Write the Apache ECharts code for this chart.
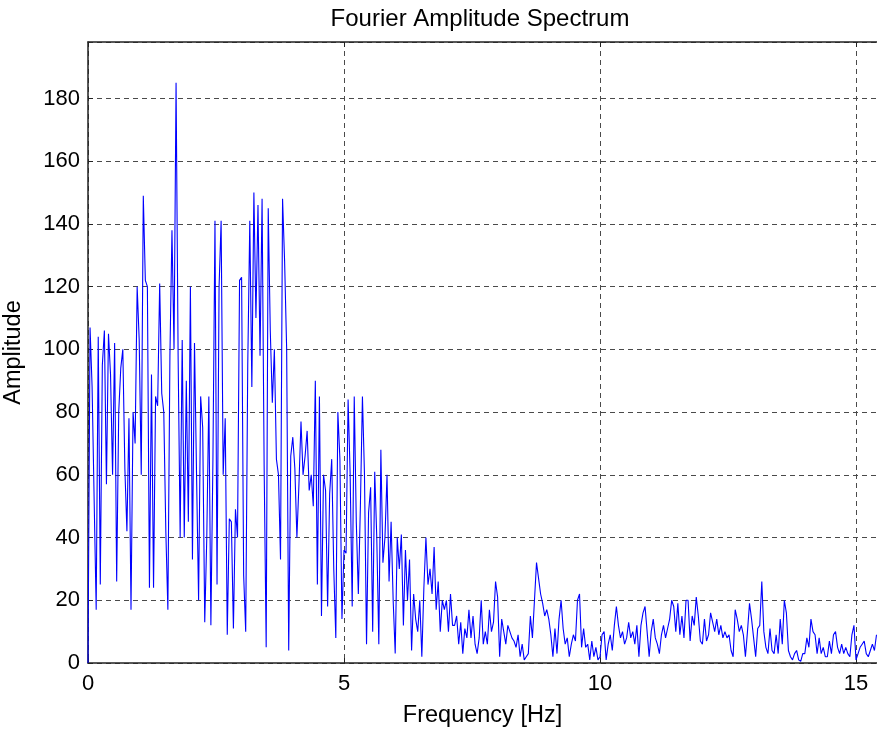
<!DOCTYPE html>
<html>
<head>
<meta charset="utf-8">
<script src="https://cdn.jsdelivr.net/npm/echarts/dist/echarts.min.js"></script>
<style>
  html, body { margin: 0; padding: 0; background: #fff; }
  #main { width: 877px; height: 731px; }
</style>
</head>
<body>
<div id="main"></div>
<script>
// Frequency resolution of the spectrum (Hz per sample)
const df = 0.04;

// Amplitude values, one per frequency bin (0 .. 15.4 Hz)
const amp0to1 = [0,107,88,52,17, 104,25,95,106,57, 105,92,60,102,26, 80,94,100,62,42, 78,17,80,70,120];
const amp1to2 = [103,60,149,122,120, 24,92,24,85,82, 121,86,80,42,17, 98,138,100,185,98, 40,103,40,90,45];
const amp2to3 = [120,33,102,60,20, 85,75,13,40,85, 12,65,141,25,120, 141,60,78,9,46, 45,11,49,40,122];
const amp3to4 = [123,28,10,95,141, 88,150,110,146,98, 148,63,5,145,106, 83,100,65,60,33, 148,128,100,4,66];
const amp4to5 = [72,62,40,57,77, 60,66,74,55,60, 50,90,25,85,15, 60,55,18,54,65, 30,8,80,65,14];
const amp5to6 = [36,35,84,60,18, 85,45,22,50,85, 60,6,48,56,10, 61,40,6,68,32, 40,60,26,45,20];
const amp6to7 = [3,40,30,41,12, 36,20,33,4,22, 14,10,20,2,24, 40,25,30,22,37, 17,26,10,20,17];
const amp7to8 = [20,10,22,12,12, 15,6,13,3,11, 8,17,8,15,6, 3,8,20,6,10, 6,17,10,13,26];
const amp8to9 = [21,2,14,10,6, 12,10,8,7,5, 9,2,6,1,2, 3,15,8,20,32, 27,22,19,15,17];
const amp9to10 = [14,9,2,11,3, 14,20,11,6,8, 2,6,9,7,20, 22,5,11,5,6, 1,7,2,5,1];
const amp10to11 = [2,9,10,1,6, 9,4,12,18,12, 8,10,6,8,13, 8,10,6,12,2, 12,16,18,10,2];
const amp11to12 = [10,14,8,6,3, 9,12,8,11,14, 20,18,10,19,9, 15,8,20,20,7, 15,12,21,15,7];
const amp12to13 = [6,14,7,9,16, 13,10,14,9,12, 8,10,8,9,4, 2,17,14,10,12, 9,2,10,19,14];
const amp13to14 = [8,2,11,12,26, 10,5,3,11,4, 3,9,3,14,6, 20,16,4,2,1, 3,4,1,0.5,3];
const amp14to15 = [3,8,5,14,10, 9,3,8,3,5, 2,2,7,3,9, 10,5,3,6,3, 5,3,2,9,12];
const amp15up = [1,3,5,6,7, 3,2,4,6,4, 9];

// Axis tick settings
const xTicks = [0, 5, 10, 15];
const yTicks = [0, 20, 40, 60, 80, 100, 120, 140, 160, 180];

const amplitude = [].concat(amp0to1, amp1to2, amp2to3, amp3to4, amp4to5, amp5to6,
  amp6to7, amp7to8, amp8to9, amp9to10, amp10to11, amp11to12, amp12to13,
  amp13to14, amp14to15, amp15up);
const seriesData = amplitude.map((a, i) => [+(i * df).toFixed(2), a]);

const FONT = 'Liberation Sans, Arial, sans-serif';
const gridLine = { show: true, lineStyle: { color: '#4a4a4a', width: 1, type: [5, 4] } };

const chart = echarts.init(document.getElementById('main'), null, { renderer: 'canvas' });
chart.setOption({
  animation: false,
  backgroundColor: '#ffffff',
  title: {
    text: 'Fourier Amplitude Spectrum',
    left: 475, top: 2, textAlign: 'center',
    textStyle: { fontFamily: FONT, fontSize: 24, fontWeight: 'normal', color: '#000' }
  },
  grid: { left: 88, top: 42, right: 0, bottom: 68, containLabel: false, outerBoundsMode: 'none' },
  xAxis: [{
    type: 'value', min: 0, max: 15.41, interval: 5,
    name: 'Frequency [Hz]', nameLocation: 'middle', nameGap: 41,
    nameTextStyle: { fontFamily: FONT, fontSize: 23.5, color: '#000' },
    axisLine: { show: true, onZero: false, lineStyle: { color: '#222', width: 1.5 } },
    axisTick: { show: true, inside: true, length: 5, lineStyle: { color: '#222' } },
    axisLabel: {
      fontFamily: FONT, fontSize: 22, color: '#000', margin: 10,
      showMaxLabel: false,
      formatter: v => xTicks.includes(v) ? String(v) : ''
    },
    splitLine: gridLine
  }, {
    type: 'value', position: 'top', min: 0, max: 15.41, interval: 5,
    axisLine: { show: true, onZero: false, lineStyle: { color: '#222', width: 1.5 } },
    axisTick: { show: true, inside: true, length: 5, lineStyle: { color: '#222' } },
    axisLabel: { show: false },
    splitLine: { show: false }
  }],
  yAxis: {
    type: 'value', min: 0, max: 198, interval: 20,
    name: 'Amplitude', nameLocation: 'middle', nameGap: 62,
    nameTextStyle: { fontFamily: FONT, fontSize: 23.5, color: '#000' },
    axisLine: { show: true, onZero: false, lineStyle: { color: '#222', width: 1.5 } },
    axisTick: { show: true, inside: true, length: 5, lineStyle: { color: '#222' } },
    axisLabel: {
      fontFamily: FONT, fontSize: 22, color: '#000', margin: 8,
      showMaxLabel: false,
      formatter: v => yTicks.includes(v) ? String(v) : ''
    },
    splitLine: gridLine
  },
  series: [{
    type: 'line',
    xAxisIndex: 0,
    data: seriesData,
    showSymbol: false,
    lineStyle: { color: '#0000ff', width: 1.1 },
    itemStyle: { color: '#0000ff' }
  }]
});
</script>
</body>
</html>
